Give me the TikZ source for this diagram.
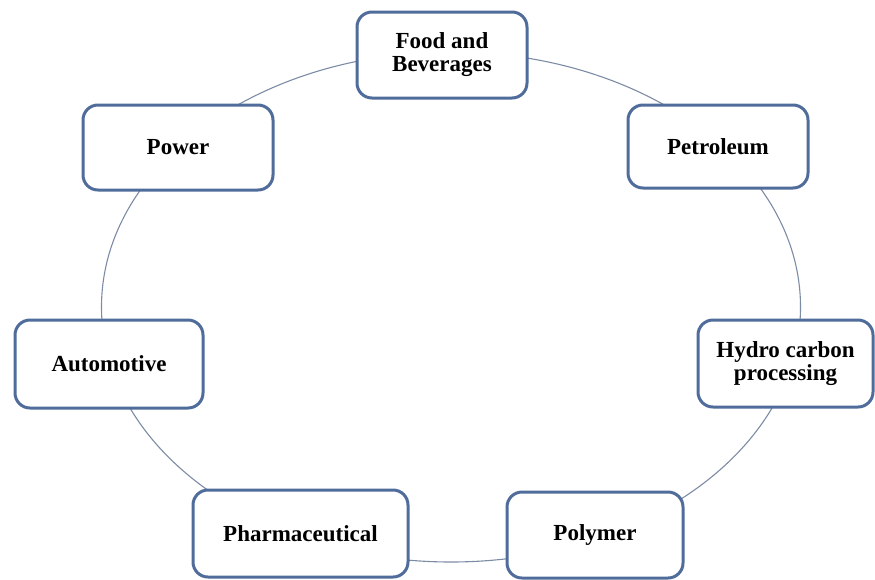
\documentclass[tikz,border=0pt]{standalone}
\usepackage{fontspec}
\setmainfont{Liberation Serif}
\definecolor{boxline}{RGB}{79,108,155}
\definecolor{ringline}{RGB}{125,140,165}
\begin{document}
\begin{tikzpicture}[x=1pt,y=-1pt,
  sector/.style={draw=boxline, line width=3pt, fill=white, rounded corners=15pt,
    inner sep=0pt, align=center, font=\fontsize{23}{23}\selectfont\bfseries},
  ring/.style={draw=ringline, line width=1.1pt}]
\useasboundingbox[fill=white] (0,0) rectangle (875,579);
\coordinate (c) at (451,307);
\draw[ring] (c) ellipse [x radius=349.5pt, y radius=255pt];
\node[sector, minimum width=170pt, minimum height=86pt] (food) at (442,55) {Food and\\Beverages};
\node[sector, minimum width=190pt, minimum height=85pt] (power) at (178,147.5) {Power};
\node[sector, minimum width=180pt, minimum height=83pt] (petro) at (718,146.5) {Petroleum};
\node[sector, minimum width=188pt, minimum height=88pt] (auto) at (109,364) {Automotive};
\node[sector, minimum width=175pt, minimum height=87pt] (hydro) at (785.5,363.5) {Hydro carbon\\processing};
\node[sector, minimum width=215pt, minimum height=87pt] (pharma) at (300.5,533.5) {Pharmaceutical};
\node[sector, minimum width=176pt, minimum height=86pt] (poly) at (595,535) {Polymer};
\end{tikzpicture}
\end{document}
